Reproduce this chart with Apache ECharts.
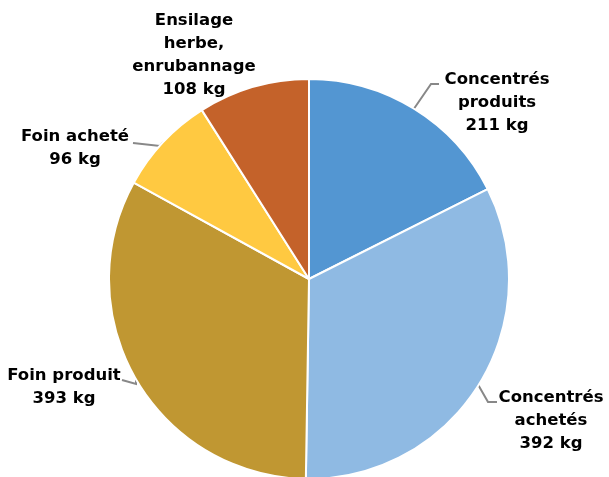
<!DOCTYPE html>
<html lang="fr">
<head>
    <meta charset="UTF-8">
    <title>Aliments</title>
    <script src="https://cdn.jsdelivr.net/npm/echarts@6/dist/echarts.min.js"></script>
    <style>
        html, body { margin: 0; padding: 0; background: #fff; }
    </style>
</head>
<body>
    <div id="main" style="width:609px;height:477px;"></div>

<script>
// données
var categories = ['Concentrés\nproduits', 'Concentrés\nachetés', 'Foin produit', 'Foin acheté', 'Ensilage\nherbe,\nenrubannage'];
var values = [211, 392, 393, 96, 108];
var colors = ['#5396D2', '#8FBAE3', '#C09732', '#FFC941', '#C4622A'];

// position des étiquettes (centre du bloc de texte) et coude du trait
var labelPos = [
    { x: 497, y: 103, elbow: [431, 84], end: [439, 84] },
    { x: 551, y: 421, elbow: [488, 402], end: [497, 402] },
    { x: 64, y: 387, elbow: [136, 384], end: [122, 380] },
    { x: 75, y: 148, elbow: [160, 146], end: [133, 143] },
    { x: 194, y: 55, elbow: null, end: null }
];

var myChart = echarts.init(document.getElementById('main'));

var pieData = values.map(function (v, i) {
    return {
        name: categories[i],
        value: v,
        itemStyle: { color: colors[i] },
        labelLine: { show: labelPos[i].elbow !== null }
    };
});

myChart.setOption({
    animation: false,
    series: [{
        type: 'pie',
        center: [309, 279],
        radius: 200,
        startAngle: 90,
        clockwise: true,
        data: pieData,
        itemStyle: {
            borderColor: '#ffffff',
            borderWidth: 2
        },
        label: {
            show: true,
            position: 'outside',
            formatter: function (p) {
                return p.name + '\n' + p.value + ' kg';
            },
            color: '#000',
            fontFamily: 'DejaVu Sans',
            fontWeight: 'bold',
            fontSize: 16.5,
            lineHeight: 23,
            align: 'center',
            overflow: 'none',
            width: 200
        },
        labelLine: {
            show: true,
            length: 10,
            length2: 10,
            lineStyle: { color: '#888', width: 2 }
        },
        labelLayout: function (params) {
            var lp = labelPos[params.dataIndex];
            var res = {
                x: lp.x,
                y: lp.y,
                align: 'center',
                verticalAlign: 'middle'
            };
            if (lp.elbow && params.labelLinePoints) {
                res.labelLinePoints = [params.labelLinePoints[0], lp.elbow, lp.end];
            }
            return res;
        }
    }]
});
</script>
</body>
</html>
